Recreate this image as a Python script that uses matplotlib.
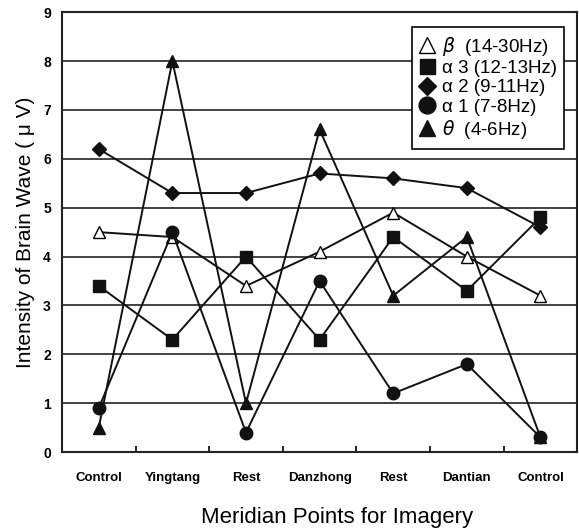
import matplotlib
matplotlib.use("Agg")
import matplotlib.pyplot as plt
from matplotlib.ticker import FixedLocator

plt.rcParams['font.family'] = ['Liberation Sans', 'DejaVu Sans']
plt.rcParams['mathtext.fontset'] = 'dejavusans'

categories = ["Control", "Yingtang", "Rest", "Danzhong", "Rest", "Dantian", "Control"]
beta = [4.5, 4.4, 3.4, 4.1, 4.9, 4.0, 3.2]
alpha3 = [3.4, 2.3, 4.0, 2.3, 4.4, 3.3, 4.8]
alpha2 = [6.2, 5.3, 5.3, 5.7, 5.6, 5.4, 4.6]
alpha1 = [0.9, 4.5, 0.4, 3.5, 1.2, 1.8, 0.3]
theta = [0.5, 8.0, 1.0, 6.6, 3.2, 4.4, 0.3]
labels = [r"$\beta$  (14-30Hz)", "α 3 (12-13Hz)", "α 2 (9-11Hz)", "α 1 (7-8Hz)", r"$\theta$  (4-6Hz)"]
yticks = list(range(0, 10))

fig = plt.figure(figsize=(5.79, 5.30), dpi=100)
ax = fig.add_axes([0.107, 0.147, 0.89, 0.830])

x = list(range(len(categories)))
series = [beta, alpha3, alpha2, alpha1, theta]
styles = [
    dict(marker='^', markerfacecolor='white', markeredgecolor='black', markersize=9),
    dict(marker='s', markerfacecolor='#111111', markeredgecolor='#111111', markersize=8),
    dict(marker='D', markerfacecolor='#111111', markeredgecolor='#111111', markersize=7),
    dict(marker='o', markerfacecolor='#111111', markeredgecolor='#111111', markersize=9),
    dict(marker='^', markerfacecolor='#111111', markeredgecolor='#111111', markersize=9),
]
for vals, st, lab in zip(series, styles, labels):
    ax.plot(x, vals, color='#111111', linewidth=1.4, label=lab, zorder=3, **st)

ax.set_xlim(-0.5, len(categories) - 0.5)
ax.set_ylim(0, 9)
ax.set_yticks(yticks)
ax.set_yticklabels([str(v) for v in yticks], fontsize=10, fontweight='bold')
ax.yaxis.grid(True, color='#222222', linewidth=1.2)
ax.set_axisbelow(True)
ax.tick_params(axis='y', length=0, pad=8)

ax.set_xticks(x)
ax.set_xticklabels(categories, fontsize=9.5, fontweight='bold')
ax.tick_params(axis='x', which='major', length=0, pad=14)
ax.xaxis.set_minor_locator(FixedLocator([i + 0.5 for i in range(len(categories) - 1)]))
ax.tick_params(axis='x', which='minor', direction='in', length=4, width=1.2)

for s in ax.spines.values():
    s.set_linewidth(1.5)
    s.set_color('#222222')

ax.set_ylabel("Intensity of Brain Wave ( μ V)", fontsize=15, labelpad=6)
ax.set_xlabel("Meridian Points for Imagery", fontsize=16, labelpad=14)
ax.xaxis.set_label_coords(0.534, -0.125)

leg = ax.legend(loc='upper right', bbox_to_anchor=(0.975, 0.966), fontsize=13.5,
                frameon=True, fancybox=False, edgecolor='black', framealpha=1,
                handlelength=0.8, handletextpad=0.4, labelspacing=0.12,
                borderpad=0.4, borderaxespad=0.0, markerscale=1.35)
leg.get_frame().set_linewidth(1.2)
for h in leg.legend_handles:
    h.set_linestyle('None')

fig.savefig("out.png", dpi=100)
